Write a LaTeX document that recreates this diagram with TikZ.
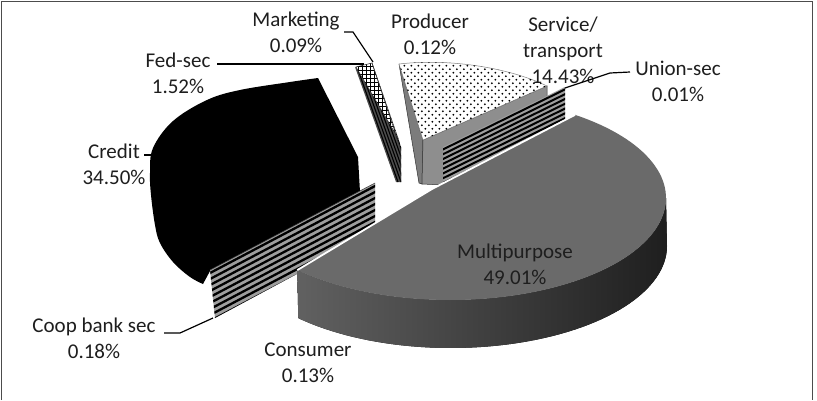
\documentclass[tikz,border=0pt]{standalone}
\usepackage{fontspec}
\setmainfont{Carlito}
\usetikzlibrary{patterns}
\pgfdeclarepatternformonly{sparsedots}{\pgfqpoint{-1pt}{-1pt}}{\pgfqpoint{8pt}{8pt}}{\pgfqpoint{7pt}{7pt}}{%
  \pgfpathcircle{\pgfqpoint{1.75pt}{1.75pt}}{1pt}%
  \pgfpathcircle{\pgfqpoint{5.25pt}{5.25pt}}{1pt}%
  \pgfusepath{fill}}
\pgfdeclarepatternformonly{mycross}{\pgfqpoint{-1pt}{-1pt}}{\pgfqpoint{5pt}{5pt}}{\pgfqpoint{4pt}{4pt}}{%
  \pgfsetlinewidth{0.8pt}%
  \pgfpathmoveto{\pgfqpoint{0pt}{2pt}}\pgfpathlineto{\pgfqpoint{4pt}{2pt}}%
  \pgfpathmoveto{\pgfqpoint{2pt}{0pt}}\pgfpathlineto{\pgfqpoint{2pt}{4pt}}%
  \pgfusepath{stroke}}
\definecolor{mpTop}{HTML}{6A6A6A}
\definecolor{txt}{HTML}{1E1E1E}
\definecolor{svcL}{HTML}{7C7C7C}
\definecolor{svcF}{HTML}{8E8E8E}
\definecolor{stripeBg}{HTML}{9E9E9E}
\tikzset{
  lbl/.style={font=\fontsize{21}{26}\selectfont, text=txt, align=center, inner sep=0pt},
  leader/.style={draw=black, line width=1.2pt},
  framel/.style={draw=black!70, line width=1pt},
  edge/.style={draw=black!80, line width=0.5pt}
}
\begin{document}
\begin{tikzpicture}[x=1pt,y=-1pt]
\useasboundingbox (0,0) rectangle (817,400);
\fill[white] (0,0) rectangle (817,400);
\draw[framel] (1,400) -- (1,1.5) -- (812,1.5) -- (812,400);

% Credit (black)
\fill[black] (318,78) -- (358,157) -- (360,192) -- (210,271) -- (203,284)
  -- plot[smooth, tension=0.6] coordinates {(203,284) (190,277) (173,262) (160,243) (155,225) (151,195) (150,173) (153,148) (173,121) (207,100) (240,90) (290,82) (318,78)} -- cycle;

% Coop bank sec stripes
\begin{scope}
\clip (210,270) -- (375,183) -- (375,232) -- (215,318) -- cycle;
\fill[stripeBg] (200,170) rectangle (380,330);
\foreach \o in {3,9,15,21,27,33,39,45,51}
  \draw[black, line width=2.3pt] (200,275.3+\o) -- (380,180.4+\o);
\end{scope}
\draw[edge] (210,270) -- (375,183);

% Fed-sec / Marketing piece
\begin{scope}
\clip (355,67) -- (357,68) -- (398,138) -- (401,147) -- (401,182) -- (396,182) -- cycle;
\fill[black!70] (340,60) rectangle (410,190);
\foreach \d in {2,5,8,11,14,17}
  \draw[black, line width=1.1pt] (355+\d,67) -- (396+\d,182);
\end{scope}
\filldraw[fill=white, draw=black!80, line width=0.5pt] (356,67) -- (372,63) -- (398,138) -- cycle;
\fill[pattern=mycross] (356,67) -- (372,63) -- (398,138) -- cycle;
\draw[edge] (372,63) -- (400,147) -- (401,182);

% Service / transport
\filldraw[fill=svcL, edge] (399,64) -- (423,140) -- (422,184) -- (419,183) -- cycle;
\filldraw[fill=svcF, edge] (423,140) -- (547,86) -- (547,140) -- (443,185) -- (422,184) -- cycle;
\filldraw[fill=white, draw=black!50, line width=0.5pt] (399,64) .. controls (450,58) and (510,68) .. (547,86) -- (423,140) -- cycle;
\fill[pattern=sparsedots] (399,64) .. controls (450,58) and (510,68) .. (547,86) -- (423,140) -- cycle;

% Union-sec stripes
\begin{scope}
\clip (443,147) -- (565,87) -- (565,125) -- (443,190) -- cycle;
\fill[stripeBg] (430,80) rectangle (570,200);
\foreach \o in {2.4,7.2,12,16.8,21.6,26.4,31.2,36,40.8}
  \draw[black, line width=2pt] (440,148.5+\o) -- (570,84.5+\o);
\end{scope}

% Multipurpose
\fill[left color=black!62, right color=black!88]
  plot[domain=0:135, samples=60] ({450+216*cos(\x)},{198+102*sin(\x)})
  -- plot[domain=135:0, samples=60] ({451+216*cos(\x)},{246+102*sin(\x)}) -- cycle;
\fill[mpTop] (432,189) -- plot[domain=-54.6:135, samples=90] ({450+216*cos(\x)},{198+102*sin(\x)}) -- cycle;
\draw[white, line width=1.8pt] (297.3,270.1) -- (432,189) -- (575.1,114.8);

% Labels
\node[lbl] (marketing) at (296,32) {Marketing\\0.09\%};
\node[lbl] (producer) at (430,34) {Producer\\0.12\%};
\node[lbl] (service) at (563,50) {Service/\\transport\\14.43\%};
\node[lbl] (union) at (678,81) {Union-sec\\0.01\%};
\node[lbl] (fedsec) at (178,73) {Fed-sec\\1.52\%};
\node[lbl] (credit) at (114,164) {Credit\\34.50\%};
\node[lbl] (coop) at (94,338) {Coop bank sec\\0.18\%};
\node[lbl] (consumer) at (308,363) {Consumer\\0.13\%};
\node[lbl] (multi) at (515,264) {Multipurpose\\49.01\%};

% Leaders
\coordinate (mkA) at (344,32); \coordinate (mkB) at (353,32); \coordinate (mkC) at (373,62);
\draw[leader] (mkA) -- (mkB) -- (mkC);
\coordinate (fdA) at (217,64); \coordinate (fdB) at (364,64);
\draw[leader] (fdA) -- (fdB);
\coordinate (unA) at (630,72); \coordinate (unB) at (610,73); \coordinate (unC) at (565,88);
\draw[leader] (unA) -- (unB) -- (unC);
\coordinate (crA) at (144,155); \coordinate (crB) at (153,155);
\draw[leader] (crA) -- (crB);
\coordinate (cpA) at (164,333); \coordinate (cpB) at (180,333); \coordinate (cpC) at (213,318);
\draw[leader] (cpA) -- (cpB) -- (cpC);
\end{tikzpicture}
\end{document}
